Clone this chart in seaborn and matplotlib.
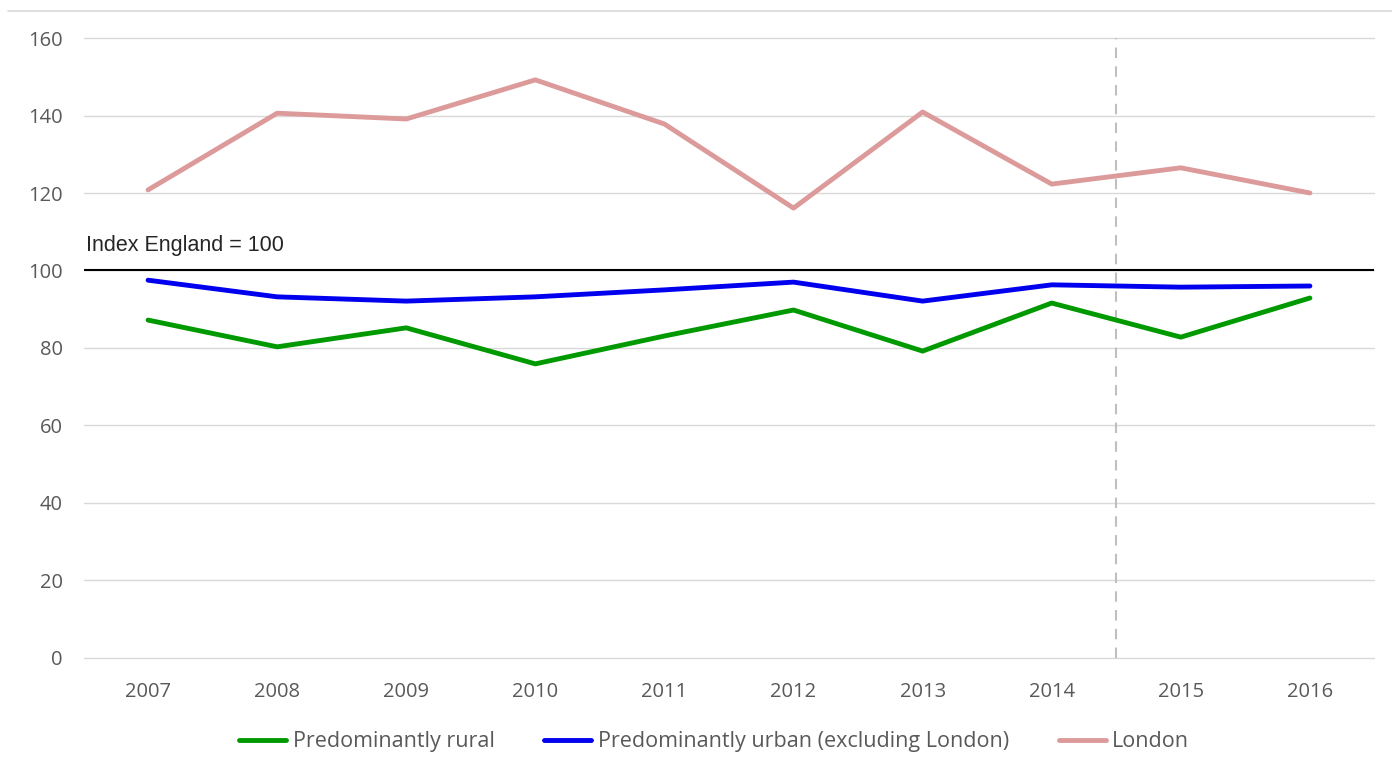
import pandas as pd
import seaborn as sns
import matplotlib.pyplot as plt
from matplotlib.lines import Line2D

years = [2007, 2008, 2009, 2010, 2011, 2012, 2013, 2014, 2015, 2016]
rural = [87.2, 80.3, 85.2, 75.9, 83.1, 89.8, 79.2, 91.6, 82.8, 92.9]
urban = [97.5, 93.2, 92.1, 93.2, 95.0, 97.0, 92.1, 96.3, 95.7, 96.0]
london = [120.8, 140.6, 139.1, 149.2, 137.8, 116.1, 140.9, 122.3, 126.5, 120.0]
series_names = ["Predominantly rural", "Predominantly urban (excluding London)", "London"]
colours = ["#009900", "#0000ee", "#dc9a9a"]
y_ticks = [0, 20, 40, 60, 80, 100, 120, 140, 160]

df = pd.DataFrame({
    "year": years * 3,
    "value": rural + urban + london,
    "series": [series_names[0]] * 10 + [series_names[1]] * 10 + [series_names[2]] * 10,
})

sns.set_style("white")
plt.rcParams['font.family'] = ['Open Sans', 'DejaVu Sans']

fig = plt.figure(figsize=(13.92, 7.71), dpi=100)
ax = fig.add_axes([0.06, 0.1466, 0.9274, 0.8041])

for y in y_ticks:
    ax.axhline(y, color="#d9d9d9", lw=1, zorder=0, clip_on=False)

sns.lineplot(data=df, x="year", y="value", hue="series", palette=colours,
             hue_order=series_names, lw=3.5, ax=ax, legend=True)

ax.axhline(100, color="black", lw=1.5, zorder=1)
ax.axvline(2014.5, color="#bfbfbf", lw=1.5, ls=(0, (5, 4)), zorder=1)
ax.text(2006.52, 103.8, "Index England = 100", fontsize=15.5, family="Liberation Sans",
        ha="left", va="bottom")

ax.set_xlim(2006.5, 2016.5)
ax.set_ylim(0, 160)
ax.set_xticks(years)
ax.set_yticks(y_ticks)
ax.tick_params(axis="both", labelsize=14.5, labelcolor="#595959", length=0)
ax.tick_params(axis="x", pad=17)
ax.tick_params(axis="y", pad=15)
ax.set_xlabel("")
ax.set_ylabel("")
for s in ax.spines.values():
    s.set_visible(False)

handles, labels = ax.get_legend_handles_labels()
ax.legend_.remove()
leg = fig.legend(handles, labels, loc="center", bbox_to_anchor=(0.513, 0.038), ncol=3,
                 frameon=False, fontsize=15.5, handlelength=2.2, handletextpad=0.3,
                 columnspacing=2.3)
for t in leg.get_texts():
    t.set_color("#595959")

fig.add_artist(Line2D([0.006, 1.0], [0.9857, 0.9857], color="#d9d9d9", lw=1.2))

fig.savefig("out.png", dpi=100)
